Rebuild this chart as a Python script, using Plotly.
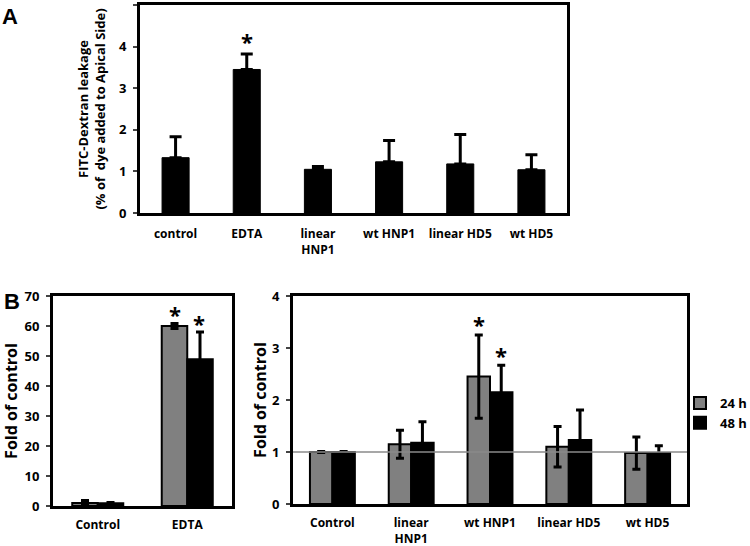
import plotly.graph_objects as go

# ---------------- data ----------------
a_categories = ["control", "EDTA", "linear HNP1", "wt HNP1", "linear HD5", "wt HD5"]
a_tick_labels = ["control", "EDTA", "linear<br>HNP1", "wt HNP1", "linear HD5", "wt HD5"]
a_values = [1.33, 3.45, 1.05, 1.23, 1.18, 1.04]
a_errors = [0.50, 0.37, 0.07, 0.51, 0.71, 0.36]
a_y_ticks = [0, 1, 2, 3, 4, 5]

bl_categories = ["Control", "EDTA"]
bl_24h = [1.0, 60.0]
bl_24h_err = [0.8, 0.8]
bl_48h = [0.9, 48.9]
bl_48h_err = [0.3, 9.1]
bl_y_ticks = [0, 10, 20, 30, 40, 50, 60, 70]

br_categories = ["Control", "linear HNP1", "wt HNP1", "linear HD5", "wt HD5"]
br_tick_labels = ["Control", "linear<br>HNP1", "wt HNP1", "linear HD5", "wt HD5"]
br_24h = [1.0, 1.15, 2.45, 1.10, 0.98]
br_24h_err = [0.01, 0.27, 0.80, 0.39, 0.31]
br_48h = [1.0, 1.18, 2.15, 1.23, 0.98]
br_48h_err = [0.01, 0.40, 0.52, 0.58, 0.14]
br_y_ticks = [0, 1, 2, 3, 4]
br_reference = 1.0

series_names = ["24 h", "48 h"]
grey = "#808080"

FONT = "Open Sans"
W, H = 750, 546

def px_x(a, b):
    return [a / W, b / W]

def px_y(top, bottom):
    return [1 - bottom / H, 1 - top / H]

fig = go.Figure()

# Panel A
fig.add_trace(go.Bar(
    x=a_categories, y=a_values, width=0.38,
    marker=dict(color="black", line=dict(color="black", width=1)),
    error_y=dict(type="data", array=a_errors, arrayminus=[0] * len(a_errors), symmetric=False,
                 color="black", thickness=3, width=6),
    xaxis="x", yaxis="y", showlegend=False,
))

# Panel B left
fig.add_trace(go.Bar(
    x=bl_categories, y=bl_24h, name=series_names[0],
    marker=dict(color=grey, line=dict(color="black", width=2)),
    error_y=dict(type="data", array=bl_24h_err, color="black", thickness=3, width=4),
    xaxis="x2", yaxis="y2", showlegend=False, legendgroup="a",
))
fig.add_trace(go.Bar(
    x=bl_categories, y=bl_48h, name=series_names[1],
    marker=dict(color="black", line=dict(color="black", width=2)),
    error_y=dict(type="data", array=bl_48h_err, color="black", thickness=3, width=4),
    xaxis="x2", yaxis="y2", showlegend=False, legendgroup="b",
))

# Panel B right
fig.add_trace(go.Bar(
    x=br_categories, y=br_24h, name=series_names[0],
    marker=dict(color=grey, line=dict(color="black", width=2)),
    error_y=dict(type="data", array=br_24h_err, color="black", thickness=3, width=4),
    xaxis="x3", yaxis="y3", legendgroup="a",
))
fig.add_trace(go.Bar(
    x=br_categories, y=br_48h, name=series_names[1],
    marker=dict(color="black", line=dict(color="black", width=2)),
    error_y=dict(type="data", array=br_48h_err, color="black", thickness=3, width=4),
    xaxis="x3", yaxis="y3", legendgroup="b",
))

xtickfont = dict(family=FONT, size=12, color="black", weight=700)
ytickfont = dict(family=FONT, size=13, color="black", weight=700)
axis_common = dict(showline=True, linecolor="black", linewidth=3, mirror=True,
                   showgrid=False, zeroline=False, automargin=False)

fig.update_layout(
    width=W, height=H,
    margin=dict(l=0, r=0, t=0, b=0, autoexpand=False),
    paper_bgcolor="white", plot_bgcolor="white",
    barmode="group", bargap=0.43, bargroupgap=0,
    font=dict(family=FONT, color="black"),
    xaxis=dict(axis_common, domain=px_x(140, 567), anchor="y", tickfont=xtickfont,
               tickvals=a_categories, ticktext=a_tick_labels, ticks="", ticklabelstandoff=8),
    yaxis=dict(axis_common, domain=px_y(5, 213), anchor="x", range=[0, 5], tickfont=ytickfont,
               tickvals=a_y_ticks, ticks="outside", ticklen=4, tickwidth=2, ticklabelstandoff=4,
               title=dict(text="FITC-Dextran leakage<br>(% of  dye added to Apical Side)",
                          font=dict(family=FONT, size=13, weight=700), standoff=11)),
    xaxis2=dict(axis_common, domain=px_x(53, 232), anchor="y2", tickfont=xtickfont,
                tickvals=bl_categories, ticks="", ticklabelstandoff=6),
    yaxis2=dict(axis_common, domain=px_y(296, 506), anchor="x2", range=[0, 70], tickfont=ytickfont,
                tickvals=bl_y_ticks, ticks="outside", ticklen=4, tickwidth=2, ticklabelstandoff=4,
                title=dict(text="Fold of control", font=dict(family=FONT, size=16, weight=700),
                           standoff=14)),
    xaxis3=dict(axis_common, domain=px_x(293, 687), anchor="y3", tickfont=xtickfont,
                tickvals=br_categories, ticktext=br_tick_labels, ticks="", ticklabelstandoff=6),
    yaxis3=dict(axis_common, domain=px_y(296, 504), anchor="x3", range=[0, 4], tickfont=ytickfont,
                tickvals=br_y_ticks, ticks="outside", ticklen=4, tickwidth=2, ticklabelstandoff=4,
                title=dict(text="Fold of control", font=dict(family=FONT, size=16, weight=700),
                           standoff=2)),
    legend=dict(x=680 / W, y=1 - 388 / H, xanchor="left", yanchor="top",
                font=dict(family=FONT, size=13, color="black", weight=700),
                bgcolor="rgba(0,0,0,0)", borderwidth=0, traceorder="normal",
                itemwidth=30, tracegroupgap=0),
)

# reference line at 1 in right panel
fig.add_shape(type="line", xref="x3 domain", yref="y3", x0=0, x1=1,
              y0=br_reference, y1=br_reference, line=dict(color="#8a8a8a", width=1.5),
              layer="above")

star_font = dict(family=FONT, size=22, color="black", weight=700)
def star(xref, yref, x, y, xshift=0):
    fig.add_annotation(text="*", xref=xref, yref=yref, x=x, y=y, xshift=xshift,
                       showarrow=False, font=star_font, yanchor="bottom", yshift=-9)

star("x", "y", "EDTA", a_values[1] + a_errors[1] + 0.12)
star("x2", "y2", "EDTA", bl_24h[1] + bl_24h_err[1] + 0.5, xshift=-12)
star("x2", "y2", "EDTA", bl_48h[1] + bl_48h_err[1] + 0.5, xshift=12)
star("x3", "y3", "wt HNP1", br_24h[2] + br_24h_err[2] + 0.05, xshift=-11)
star("x3", "y3", "wt HNP1", br_48h[2] + br_48h_err[2] + 0.05, xshift=11)

# panel letters
fig.add_annotation(text="A", xref="paper", yref="paper", x=0, y=1 - 2 / H,
                   xanchor="left", yanchor="top", showarrow=False,
                   font=dict(family="Liberation Sans", size=22, weight=700, color="black"))
fig.add_annotation(text="B", xref="paper", yref="paper", x=2 / W, y=1 - 287 / H,
                   xanchor="left", yanchor="top", showarrow=False,
                   font=dict(family="Liberation Sans", size=22, weight=700, color="black"))

# the page's default 8px body margin would offset the whole figure; remove it
fig.write_html("out.html", config={"displayModeBar": False},
               post_script="document.body.style.margin='0';")
